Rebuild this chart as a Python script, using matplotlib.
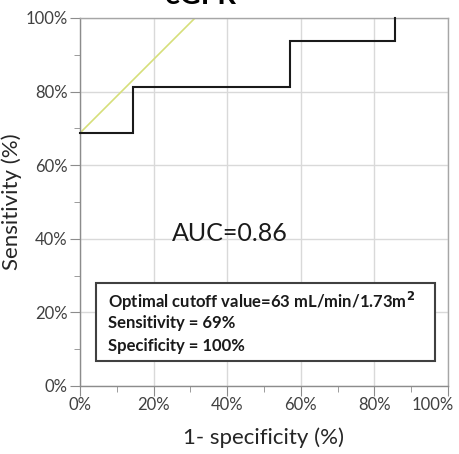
import matplotlib
matplotlib.use("Agg")
import matplotlib.pyplot as plt
from matplotlib.ticker import MultipleLocator, FuncFormatter, NullFormatter
from matplotlib.patches import Rectangle
from matplotlib.transforms import ScaledTranslation

# ROC curve points (1 - specificity, sensitivity), in percent
fpr = [0.0, 14.29, 14.29, 57.14, 57.14, 85.71, 85.71]
tpr = [68.75, 68.75, 81.25, 81.25, 93.75, 93.75, 100.0]

# Reference line through the optimal cutoff point (slope 1)
ref_x = [0.0, 31.25]
ref_y = [68.75, 100.0]

x_ticks = [0, 20, 40, 60, 80, 100]
x_tick_labels = ["0%", "20%", "40%", "60%", "80%", "100%"]

auc_text = "AUC=0.86"
box_lines = ["Optimal cutoff value=63 mL/min/1.73m$^{\\mathbf{2}}$",
             "Sensitivity = 69%",
             "Specificity = 100%"]
title = "eGFR"
xlabel = "1- specificity (%)"
ylabel = "Sensitivity (%)"

plt.rcParams['font.family'] = ['Lato', 'DejaVu Sans']

W, H = 460, 454
fig = plt.figure(figsize=(W / 100, H / 100), dpi=100)
ax = fig.add_axes([80 / W, 1 - 386 / H, (448 - 80) / W, (386 - 18) / H])

ax.set_xlim(0, 100)
ax.set_ylim(0, 100)

ax.set_xticks(x_ticks)
ax.xaxis.set_major_formatter(NullFormatter())
ax.xaxis.set_minor_locator(MultipleLocator(10))
ax.yaxis.set_major_locator(MultipleLocator(20))
ax.yaxis.set_minor_locator(MultipleLocator(10))
ax.yaxis.set_major_formatter(FuncFormatter(lambda v, p: f"{v:.0f}%"))

ax.grid(True, which='major', color='#d9d9d9', linewidth=1.0)
ax.set_axisbelow(True)

for s in ax.spines.values():
    s.set_color('#a6a6a6')
    s.set_linewidth(1.0)
ax.spines['left'].set_color('#8c8c8c')
ax.spines['bottom'].set_color('#8c8c8c')

ax.tick_params(which='major', direction='out', length=7, color='#8c8c8c',
               labelsize=12, labelcolor='#404040', pad=2)
ax.tick_params(which='minor', direction='out', length=4, color='#8c8c8c')

# x tick labels drawn as text so the last one can be kept inside the figure
xt = ax.get_xaxis_transform()
for i, (v, lab) in enumerate(zip(x_ticks, x_tick_labels)):
    tr = xt + ScaledTranslation(0, -11 / 100, fig.dpi_scale_trans)
    if i == len(x_ticks) - 1:
        tr = tr + ScaledTranslation(-15 / 100, 0, fig.dpi_scale_trans)
    ax.text(v, 0, lab, transform=tr, fontsize=12, color='#404040',
            ha='center', va='top', clip_on=False)

ax.plot(ref_x, ref_y, color='#d6df7a', linewidth=1.2, zorder=2, clip_on=True)
ax.plot(fpr, tpr, color='#1a1a1a', linewidth=1.5, zorder=3,
        solid_joinstyle='miter', clip_on=False)

ax.text(25.0, 41.5, auc_text, fontsize=18, color='#1a1a1a', ha='left', va='center')

# Annotation box
ax.add_patch(Rectangle((4.4, 6.8), 92.2, 21.2, transform=ax.transData,
                       facecolor='white', edgecolor='#404040', linewidth=1.5, zorder=4))
ys = [23.0, 17.0, 11.0]
for t, yy in zip(box_lines, ys):
    ax.text(7.6, yy, t, fontsize=12, fontweight='bold', color='#1a1a1a',
            ha='left', va='center', zorder=5)

ax.set_xlabel(xlabel, fontsize=16, color='#262626', labelpad=21)
ax.set_ylabel(ylabel, fontsize=16, color='#262626', labelpad=2)

fig.text(200 / W, 1 - 4 / H, title, fontsize=21, fontweight='bold',
         ha='center', va='baseline', color='#000000')

fig.savefig("out.png", dpi=100)
